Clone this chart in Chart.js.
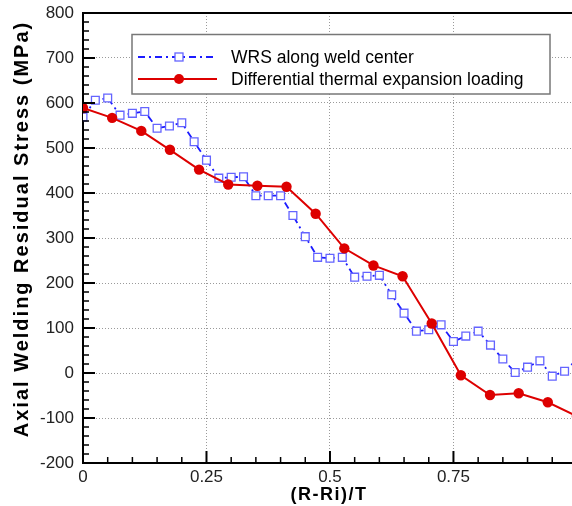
<!DOCTYPE html>
<html>
<head>
<meta charset="utf-8">
<script src="https://cdn.jsdelivr.net/npm/chart.js@4.4.1/dist/chart.umd.min.js"></script>
<style>
  html, body { margin: 0; padding: 0; background: #fff; }
  #wrap { width: 572px; height: 506px; }
</style>
</head>
<body>
<div id="wrap"><canvas id="myChart" width="572" height="506"></canvas></div>
<script>
// WRS along weld center
const weldX = [0, 0.025, 0.05, 0.075, 0.1, 0.125, 0.15, 0.175, 0.2, 0.225,
    0.25, 0.275, 0.3, 0.325, 0.35, 0.375, 0.4, 0.425, 0.45, 0.475,
    0.5, 0.525, 0.55, 0.575, 0.6, 0.625, 0.65, 0.675, 0.7, 0.725,
    0.75, 0.775, 0.8, 0.825, 0.85, 0.875, 0.9, 0.925, 0.95, 0.975, 1.0];
const weldY = [569, 606, 611, 573, 577, 581, 544, 549, 556, 514,
    473, 433, 435, 436, 394, 394, 394, 350, 303, 257,
    255, 257, 213, 215, 217, 174, 133, 93, 96, 107,
    70, 82, 93, 62, 31, 1, 13, 27, -7, 4, 30];

// Differential thermal expansion loading
const thermalX = [0, 0.059, 0.118, 0.176, 0.235, 0.294, 0.353, 0.412, 0.471,
    0.529, 0.588, 0.647, 0.706, 0.765, 0.824, 0.882, 0.941, 1.0];
const thermalY = [589, 567, 538, 496, 452, 419, 416, 414, 354,
    277, 239, 215, 110, -5, -49, -45, -65, -96];

const xTicks = [0, 0.25, 0.5, 0.75];
const seriesNames = ['WRS along weld center', 'Differential thermal expansion loading'];
const xTitle = '(R-Ri)/T';
const yTitle = 'Axial Welding Residual Stress (MPa)';

const FONT = '"Liberation Sans", Arial, sans-serif';
const BLUE = '#1c1cff';
const BLUE_MARK = '#6464ff';
const RED = '#dd0000';

// top border, inward tick marks, axis titles and the boxed legend
const extras = {
    id: 'extras',
    afterDraw(chart) {
        const ctx = chart.ctx;
        const a = chart.chartArea;
        const xs = chart.scales.x;
        const ys = chart.scales.y;
        ctx.save();
        ctx.strokeStyle = '#000';
        ctx.lineWidth = 2;
        ctx.beginPath();
        ctx.moveTo(a.left - 1, a.top);
        ctx.lineTo(a.right, a.top);
        ctx.stroke();

        // x ticks every 0.05, major every 0.25
        for (let k = 0; k <= 19; k++) {
            const px = xs.getPixelForValue(k * 0.05);
            const major = k % 5 === 0;
            ctx.lineWidth = major ? 2 : 1.5;
            ctx.beginPath();
            ctx.moveTo(px, a.bottom);
            ctx.lineTo(px, a.bottom - (major ? 12 : 6));
            ctx.stroke();
        }
        // y ticks every 20, major every 100
        for (let k = 0; k <= 50; k++) {
            const py = ys.getPixelForValue(-200 + k * 20);
            const major = k % 5 === 0;
            ctx.lineWidth = major ? 2 : 1.5;
            ctx.beginPath();
            ctx.moveTo(a.left, py);
            ctx.lineTo(a.left + (major ? 12 : 6), py);
            ctx.stroke();
        }

        // axis titles
        ctx.fillStyle = '#000';
        ctx.textAlign = 'center';
        ctx.textBaseline = 'middle';
        ctx.font = 'bold 18px ' + FONT;
        ctx.letterSpacing = '1.5px';
        ctx.fillText(xTitle, 329, 495);
        ctx.save();
        ctx.translate(22, 229);
        ctx.rotate(-Math.PI / 2);
        ctx.font = 'bold 20px ' + FONT;
        ctx.letterSpacing = '2px';
        ctx.fillText(yTitle, 0, 0);
        ctx.restore();
        ctx.letterSpacing = '0px';

        // legend
        ctx.fillStyle = '#fff';
        ctx.fillRect(132, 34.5, 418, 59.5);
        ctx.strokeStyle = '#777';
        ctx.lineWidth = 1.5;
        ctx.strokeRect(132, 34.5, 418, 59.5);

        const rows = [57, 79];
        ctx.lineWidth = 2;
        ctx.strokeStyle = BLUE;
        ctx.setLineDash([7, 4, 2, 4]);
        ctx.beginPath();
        ctx.moveTo(138, rows[0]);
        ctx.lineTo(217, rows[0]);
        ctx.stroke();
        ctx.setLineDash([]);
        ctx.fillStyle = '#fff';
        ctx.strokeStyle = BLUE_MARK;
        ctx.lineWidth = 1.3;
        ctx.fillRect(175, rows[0] - 4, 8, 8);
        ctx.strokeRect(175, rows[0] - 4, 8, 8);

        ctx.strokeStyle = RED;
        ctx.lineWidth = 2;
        ctx.beginPath();
        ctx.moveTo(138, rows[1]);
        ctx.lineTo(217, rows[1]);
        ctx.stroke();
        ctx.fillStyle = RED;
        ctx.beginPath();
        ctx.arc(179, rows[1], 5, 0, Math.PI * 2);
        ctx.fill();

        ctx.fillStyle = '#000';
        ctx.textAlign = 'left';
        ctx.font = '17.5px ' + FONT;
        ctx.fillText(seriesNames[0], 231, rows[0] + 1);
        ctx.fillText(seriesNames[1], 231, rows[1] + 1);
        ctx.restore();
    }
};

const ctx = document.getElementById('myChart');
new Chart(ctx, {
    type: 'line',
    data: {
        datasets: [{
            label: seriesNames[0],
            data: weldX.map((x, i) => ({ x: x, y: weldY[i] })),
            borderColor: BLUE,
            borderWidth: 1.8,
            borderDash: [7, 4, 2, 4],
            pointStyle: 'rect',
            pointRadius: 5.5,
            pointBorderWidth: 1.3,
            pointBorderColor: BLUE_MARK,
            pointBackgroundColor: '#fff',
            tension: 0,
            order: 1
        }, {
            label: seriesNames[1],
            data: thermalX.map((x, i) => ({ x: x, y: thermalY[i] })),
            borderColor: RED,
            borderWidth: 2,
            pointStyle: 'circle',
            pointRadius: 5.2,
            pointBorderWidth: 0,
            pointBackgroundColor: RED,
            tension: 0,
            order: 0
        }]
    },
    options: {
        responsive: false,
        animation: false,
        layout: {
            autoPadding: false,
            padding: { top: 13, right: 0, left: 0, bottom: 0 }
        },
        plugins: {
            legend: { display: false },
            tooltip: { enabled: false }
        },
        scales: {
            x: {
                type: 'linear',
                min: 0,
                max: 0.99,
                afterBuildTicks: scale => { scale.ticks = xTicks.map(v => ({ value: v })); },
                afterFit: scale => {
                    scale.height = 43;
                    scale.paddingLeft = 0;
                    scale.paddingRight = 0;
                },
                ticks: {
                    padding: 4,
                    color: '#222',
                    font: { family: FONT, size: 17 },
                    callback: v => String(v)
                },
                grid: { color: '#9a9a9a', lineWidth: 1, drawTicks: false },
                border: { display: true, color: '#000', width: 2, dash: [1, 2] }
            },
            y: {
                min: -200,
                max: 800,
                afterFit: scale => {
                    scale.width = 83;
                    scale.paddingTop = 0;
                    scale.paddingBottom = 0;
                },
                ticks: {
                    stepSize: 100,
                    padding: 9,
                    color: '#222',
                    font: { family: FONT, size: 17 }
                },
                grid: { color: '#9a9a9a', lineWidth: 1, drawTicks: false },
                border: { display: true, color: '#000', width: 2, dash: [1, 2] }
            }
        }
    },
    plugins: [extras]
});
</script>
</body>
</html>
